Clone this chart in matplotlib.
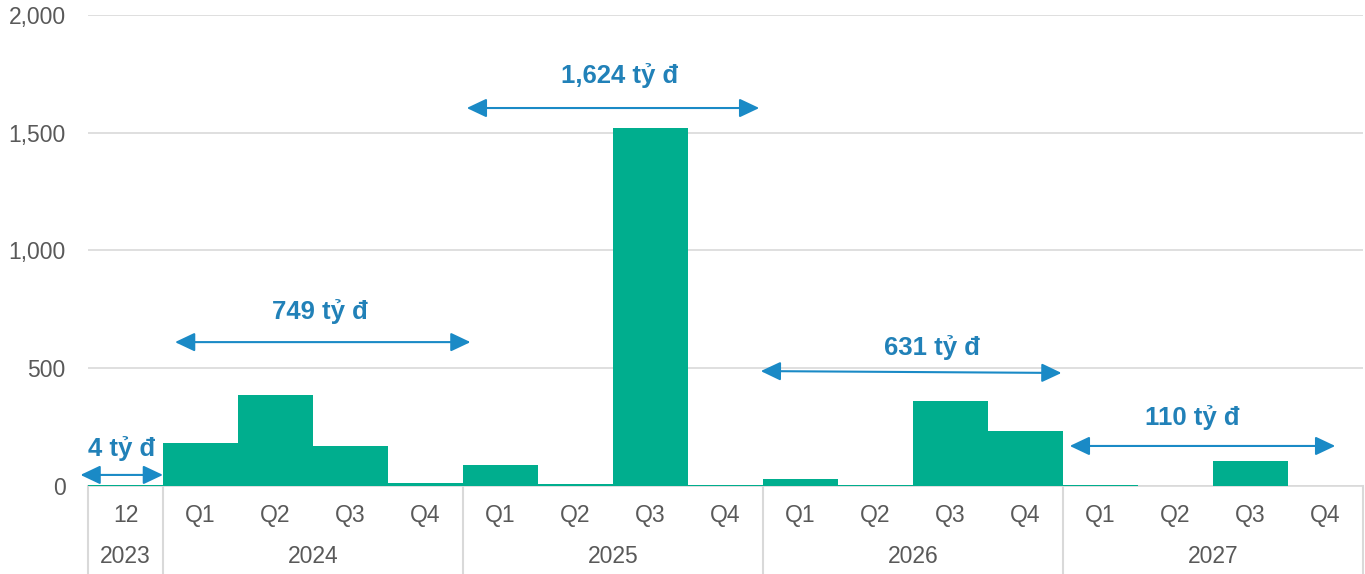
import numpy as np
import matplotlib.pyplot as plt
from matplotlib.transforms import blended_transform_factory

plt.rcParams['font.family'] = ['Liberation Sans', 'DejaVu Sans']

# Du lieu
nhan_quy = ['12', 'Q1', 'Q2', 'Q3', 'Q4', 'Q1', 'Q2', 'Q3', 'Q4',
            'Q1', 'Q2', 'Q3', 'Q4', 'Q1', 'Q2', 'Q3', 'Q4']
gia_tri = [4, 182, 387, 168, 12, 90, 10, 1520, 4,
           30, 4, 363, 234, 4, 0, 106, 0]
nam = ['2023', '2024', '2025', '2026', '2027']
so_quy_moi_nam = [1, 4, 4, 4, 4]
tong_nam = ['4 tỷ đ', '749 tỷ đ', '1,624 tỷ đ', '631 tỷ đ', '110 tỷ đ']

# vi tri mui ten / nhan (x0, x1, y0, y1, x nhan, y nhan)
mui_ten = [(-0.6, 0.5, 47, 47, -0.05, 161),
           (0.66, 4.6, 611, 611, 2.59, 739),
           (4.55, 8.45, 1605, 1605, 6.59, 1745),
           (8.47, 12.48, 488, 480, 10.75, 590),
           (12.59, 16.13, 170, 170, 14.22, 289)]

mau_cot = '#00ae8e'
mau_chu = '#595959'
mau_luoi = '#d9d9d9'
mau_mui_ten = '#1a8ac6'
mau_nhan = '#2181b8'

fig = plt.figure(figsize=(13.65, 5.74), dpi=100)
ax = fig.add_axes([88 / 1365, 88 / 574, 1275 / 1365, 471 / 574])

x = np.arange(len(gia_tri))
ax.bar(x, gia_tri, width=1.0, color=mau_cot, zorder=3)

ax.set_xlim(-0.5, len(gia_tri) - 0.5)
ax.set_ylim(0, 2000)
ax.set_yticks([0, 500, 1000, 1500, 2000])
ax.set_yticklabels([f'{v:,}' for v in [0, 500, 1000, 1500, 2000]])
ax.tick_params(axis='y', length=0, pad=16, labelsize=16.5, labelcolor=mau_chu)
ax.set_xticks([])
ax.grid(axis='y', color=mau_luoi, linewidth=1.2, zorder=0)
for s in ['top', 'right', 'left']:
    ax.spines[s].set_visible(False)
ax.spines['bottom'].set_color(mau_luoi)
ax.spines['bottom'].set_linewidth(1.2)

# Nhan truc x hai cap
tr = blended_transform_factory(ax.transData, ax.transAxes)
for i, q in enumerate(nhan_quy):
    ax.text(i, -0.0616, q, transform=tr, ha='center', va='center',
            fontsize=16.5, color=mau_chu)

bien = np.concatenate([[0], np.cumsum(so_quy_moi_nam)]) - 0.5
for b in bien:
    ax.plot([b, b], [0, -0.19], transform=tr, color=mau_luoi,
            linewidth=1.5, clip_on=False)
for k, n in enumerate(nam):
    ax.text((bien[k] + bien[k + 1]) / 2, -0.149, n, transform=tr,
            ha='center', va='center', fontsize=16.5, color=mau_chu)

# Mui ten va tong theo nam
for (x0, x1, y0, y1, xt, yt), nhan in zip(mui_ten, tong_nam):
    ax.annotate('', xy=(x1, y1), xytext=(x0, y0),
                arrowprops=dict(arrowstyle='<|-|>,head_length=0.55,head_width=0.26',
                                color=mau_mui_ten, lw=1.5, mutation_scale=22,
                                shrinkA=0, shrinkB=0),
                annotation_clip=False, zorder=5)
    ax.text(xt, yt, nhan, ha='center', va='center', fontsize=18.5,
            fontweight='bold', color=mau_nhan, zorder=5)

fig.savefig('out.png', dpi=100)
